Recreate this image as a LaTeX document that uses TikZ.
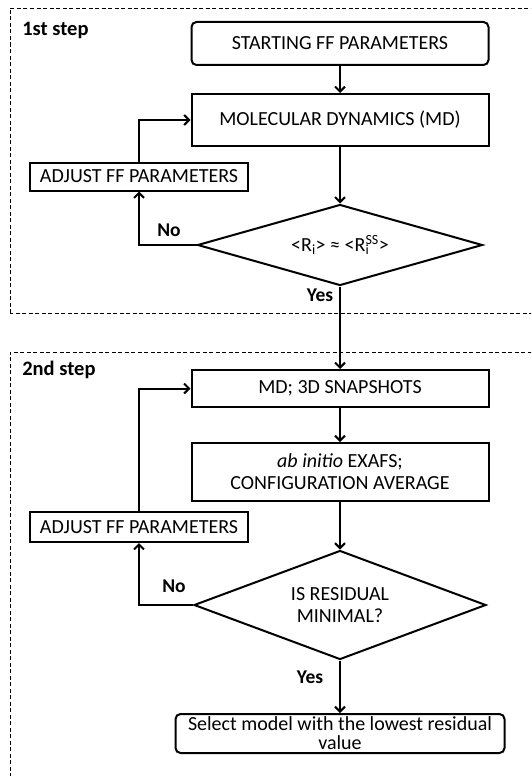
\documentclass[tikz,border=0pt]{standalone}
\usepackage{fontspec}
\setmainfont{Carlito}
\usetikzlibrary{shapes.geometric,arrows.meta}

\begin{document}
\begin{tikzpicture}[x=1pt, y=-1pt, line width=2pt,
    font=\fontsize{20}{22}\selectfont,
    stepbox/.style={draw, minimum width=297pt, minimum height=52pt, align=center, inner sep=2pt},
    roundbox/.style={draw, rounded corners=5pt, align=center, inner sep=2pt},
    adjbox/.style={draw, minimum width=218pt, minimum height=28pt, inner sep=2pt},
    testbox/.style={draw, diamond, align=center, inner sep=0pt},
    answer/.style={font=\fontsize{19.5}{22}\selectfont\bfseries},
    frame/.style={line width=0.9pt, dash pattern=on 4pt off 2.5pt},
    arr/.style={-{Straight Barb[length=5pt,width=10pt]}}]
    \useasboundingbox (0,0) rectangle (531,776);
    \clip (0,0) rectangle (531,776);
    % dashed frames of the two steps
    \draw[frame] (10,313) -- (10,8) -- (545,8) -- (545,313) -- cycle;
    \draw[frame] (10,790) -- (10,352) -- (545,352) -- (545,790);
    \node[font=\fontsize{20.5}{22}\selectfont\bfseries, anchor=west] (step1) at (18,30) {1st step};
    \node[font=\fontsize{20.5}{22}\selectfont\bfseries, anchor=west] (step2) at (18,370) {2nd step};
    % 1st step
    \node[roundbox, minimum width=297pt, minimum height=43pt] (start) at (340,43.5) {STARTING FF PARAMETERS};
    \node[stepbox] (md) at (340,120) {MOLECULAR DYNAMICS (MD)};
    \node[adjbox] (adj1) at (139,176.5) {ADJUST FF PARAMETERS};
    \node[testbox, aspect=3.5, minimum width=285pt, minimum height=81pt] (test1) at (340,245) {<R\textsubscript{i}> ≈ <R\rlap{\textsubscript{i}}\textsuperscript{SS}>};
    % 2nd step
    \node[stepbox, minimum height=37pt] (snap) at (340,388.5) {MD; 3D SNAPSHOTS};
    \node[stepbox, minimum height=58pt] (exafs) at (340,472) {\textit{ab initio} EXAFS;\\CONFIGURATION AVERAGE};
    \node[adjbox, minimum height=30pt] (adj2) at (139,527) {ADJUST FF PARAMETERS};
    \node[testbox, aspect=2.7, minimum width=292pt, minimum height=109pt] (test2) at (340,605) {IS RESIDUAL\\MINIMAL?};
    \node[roundbox, minimum width=329pt, minimum height=39pt, inner sep=1pt] (final) at (340,733.5) {Select model with the lowest residual\\[-3pt]value};
    % connectors
    \draw[arr] (start) -- (md);
    \draw[arr] (md) -- (test1.north);
    \draw[arr] (test1.west) -| (adj1.south);
    \draw[arr] (adj1.north) |- (md.west);
    \draw[arr] (test1.south) -- (snap.north);
    \draw[arr] (snap) -- (exafs);
    \draw[arr] (exafs) -- (test2.north);
    \draw[arr] (test2.west) -| (adj2.south);
    \draw[arr] (adj2.north) |- (snap.west);
    \draw[arr] (test2.south) -- (final.north);
    % answers
    \node[answer] (no1) at (169,230) {No};
    \node[answer] (yes1) at (320,295) {Yes};
    \node[answer] (no2) at (174,586) {No};
    \node[answer] (yes2) at (310,677) {Yes};
\end{tikzpicture}
\end{document}
